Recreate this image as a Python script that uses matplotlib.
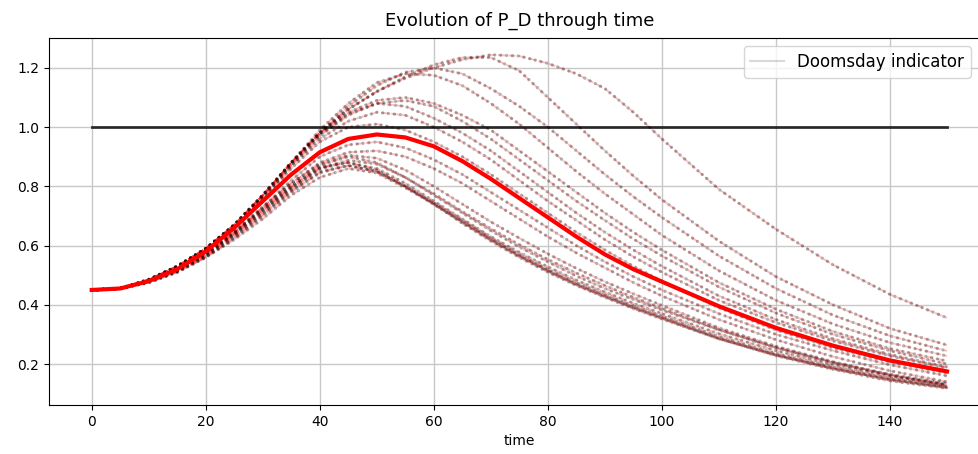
"""Evolution of P_D through time: ensemble runs, their mean and the doomsday line."""

import matplotlib

matplotlib.use("Agg")
import matplotlib.pyplot as plt
from matplotlib.lines import Line2D

TIME = [0, 5, 10, 15, 20, 25, 30, 35, 40, 45, 50, 55, 60, 65, 70,
        75, 80, 85, 90, 95, 100, 110, 120, 130, 140, 150]

# Runs that go over the doomsday threshold
RUN_A = [0.45, 0.455, 0.485, 0.53, 0.59, 0.67, 0.77, 0.88, 0.98, 1.06, 1.12, 1.165, 1.20,
         1.228, 1.244, 1.24, 1.215, 1.18, 1.13, 1.05, 0.96, 0.79, 0.655, 0.535, 0.435, 0.356]
RUN_B = [0.45, 0.455, 0.485, 0.53, 0.59, 0.67, 0.77, 0.88, 0.98, 1.06, 1.12, 1.17, 1.21,
         1.235, 1.235, 1.19, 1.10, 1.01, 0.92, 0.835, 0.755, 0.615, 0.495, 0.40, 0.32, 0.264]
RUN_C = [0.45, 0.455, 0.485, 0.53, 0.59, 0.67, 0.77, 0.88, 0.98, 1.07, 1.14, 1.185, 1.20,
         1.18, 1.13, 1.07, 1.00, 0.92, 0.84, 0.765, 0.695, 0.565, 0.455, 0.365, 0.295, 0.244]
RUN_D = [0.45, 0.455, 0.485, 0.53, 0.59, 0.67, 0.77, 0.88, 0.99, 1.08, 1.15, 1.18, 1.175,
         1.14, 1.08, 1.01, 0.93, 0.85, 0.775, 0.705, 0.635, 0.515, 0.415, 0.335, 0.272, 0.227]
RUN_E = [0.45, 0.455, 0.485, 0.53, 0.59, 0.67, 0.77, 0.88, 0.98, 1.05, 1.09, 1.10, 1.08,
         1.04, 0.99, 0.92, 0.85, 0.78, 0.71, 0.645, 0.585, 0.475, 0.385, 0.31, 0.252, 0.21]
RUN_F = [0.45, 0.455, 0.48, 0.525, 0.585, 0.66, 0.76, 0.87, 0.97, 1.04, 1.08, 1.07, 1.03,
         0.98, 0.92, 0.85, 0.78, 0.71, 0.645, 0.585, 0.53, 0.43, 0.35, 0.285, 0.232, 0.19]
RUN_G = [0.45, 0.455, 0.48, 0.525, 0.585, 0.66, 0.76, 0.87, 0.96, 1.02, 1.05, 1.04, 1.00,
         0.95, 0.89, 0.82, 0.75, 0.685, 0.62, 0.562, 0.51, 0.415, 0.34, 0.278, 0.227, 0.186]
RUN_H = [0.45, 0.455, 0.48, 0.52, 0.58, 0.655, 0.75, 0.86, 0.95, 1.00, 1.01, 0.99, 0.95,
         0.90, 0.84, 0.775, 0.71, 0.645, 0.585, 0.53, 0.48, 0.39, 0.315, 0.255, 0.207, 0.17]
RUN_Q = [0.45, 0.455, 0.485, 0.53, 0.59, 0.665, 0.765, 0.875, 0.975, 1.045, 1.08, 1.09, 1.07,
         1.02, 0.96, 0.89, 0.82, 0.75, 0.685, 0.622, 0.565, 0.46, 0.372, 0.30, 0.245, 0.20]

# Runs that stay below it
RUN_I = [0.45, 0.455, 0.48, 0.52, 0.575, 0.645, 0.73, 0.82, 0.90, 0.94, 0.95, 0.93, 0.89,
         0.84, 0.78, 0.72, 0.66, 0.60, 0.545, 0.495, 0.45, 0.37, 0.30, 0.245, 0.197, 0.16]
RUN_O = [0.45, 0.455, 0.48, 0.52, 0.575, 0.645, 0.73, 0.81, 0.88, 0.915, 0.92, 0.90, 0.86,
         0.81, 0.75, 0.69, 0.63, 0.575, 0.525, 0.475, 0.43, 0.35, 0.282, 0.225, 0.177, 0.14]
RUN_J = [0.45, 0.455, 0.478, 0.515, 0.57, 0.64, 0.72, 0.80, 0.87, 0.90, 0.88, 0.83, 0.77,
         0.71, 0.65, 0.595, 0.545, 0.497, 0.455, 0.418, 0.382, 0.315, 0.255, 0.205, 0.165, 0.135]
RUN_K = [0.45, 0.455, 0.478, 0.515, 0.565, 0.635, 0.71, 0.79, 0.86, 0.88, 0.86, 0.81, 0.75,
         0.69, 0.63, 0.577, 0.528, 0.483, 0.443, 0.405, 0.37, 0.302, 0.245, 0.197, 0.158, 0.13]
RUN_L = [0.45, 0.455, 0.475, 0.51, 0.56, 0.625, 0.70, 0.78, 0.845, 0.87, 0.85, 0.80, 0.745,
         0.685, 0.625, 0.57, 0.52, 0.475, 0.435, 0.397, 0.362, 0.293, 0.236, 0.19, 0.152, 0.125]
RUN_M = [0.45, 0.455, 0.475, 0.51, 0.56, 0.62, 0.69, 0.77, 0.83, 0.86, 0.845, 0.795, 0.74,
         0.68, 0.62, 0.565, 0.515, 0.47, 0.43, 0.392, 0.357, 0.287, 0.231, 0.186, 0.147, 0.12]
RUN_P = [0.45, 0.455, 0.478, 0.515, 0.57, 0.64, 0.72, 0.80, 0.865, 0.88, 0.855, 0.80, 0.74,
         0.675, 0.615, 0.56, 0.51, 0.465, 0.425, 0.387, 0.352, 0.285, 0.23, 0.185, 0.148, 0.122]
RUN_N = [0.45, 0.455, 0.48, 0.52, 0.575, 0.645, 0.725, 0.81, 0.875, 0.905, 0.895, 0.855, 0.80,
         0.74, 0.68, 0.625, 0.572, 0.523, 0.478, 0.437, 0.398, 0.322, 0.26, 0.208, 0.163, 0.128]
RUN_R = [0.45, 0.455, 0.476, 0.512, 0.562, 0.628, 0.705, 0.785, 0.85, 0.87, 0.85, 0.80, 0.74,
         0.68, 0.62, 0.565, 0.515, 0.468, 0.428, 0.39, 0.355, 0.285, 0.228, 0.182, 0.143, 0.118]
RUN_S = [0.45, 0.455, 0.478, 0.515, 0.568, 0.635, 0.715, 0.795, 0.86, 0.888, 0.875, 0.83, 0.775,
         0.715, 0.657, 0.603, 0.553, 0.507, 0.465, 0.425, 0.388, 0.316, 0.255, 0.204, 0.162, 0.13]

RUNS = [RUN_A, RUN_B, RUN_C, RUN_D, RUN_E, RUN_Q, RUN_F, RUN_G, RUN_H,
        RUN_I, RUN_O, RUN_N, RUN_J, RUN_S, RUN_P, RUN_K, RUN_L, RUN_M, RUN_R]

MEAN_PD = [0.45, 0.455, 0.48, 0.52, 0.58, 0.66, 0.75, 0.84, 0.915, 0.96, 0.975, 0.965, 0.935,
           0.885, 0.825, 0.76, 0.695, 0.63, 0.57, 0.52, 0.478, 0.395, 0.322, 0.262, 0.212, 0.175]

DOOMSDAY_LEVEL = 1.0


def main() -> None:
    figure = plt.figure(figsize=(9.79, 4.54), dpi=100)
    axis = figure.add_axes([0.05, 0.108, 0.961, 0.808])

    for run in RUNS:
        axis.plot(TIME, run, "--", color="red", linewidth=1.4, alpha=0.25)
        axis.plot(TIME, run, color="black", linewidth=2.4, alpha=0.3,
                  linestyle=(0, (0.01, 1.75)), dash_capstyle="round")

    axis.plot([TIME[0], TIME[-1]], [DOOMSDAY_LEVEL, DOOMSDAY_LEVEL],
              color="black", linewidth=2, alpha=0.8)
    axis.plot(TIME, MEAN_PD, color="red", linewidth=3)

    axis.set_title("Evolution of P_D through time", fontsize=13, pad=9)
    axis.set_xlabel("time")
    axis.set_xticks(range(0, 141, 20))
    axis.set_yticks([0.2, 0.4, 0.6, 0.8, 1.0, 1.2])
    axis.grid(True, color="#c8c8c8", linewidth=1)
    axis.set_axisbelow(True)

    handle = Line2D([], [], color="black", alpha=0.15, linewidth=1.5)
    axis.legend([handle], ["Doomsday indicator"], loc="upper right",
                bbox_to_anchor=(1.0, 0.916), bbox_transform=figure.transFigure,
                fontsize=12)

    figure.savefig("out.png", dpi=100)
    plt.close(figure)


if __name__ == "__main__":
    main()
